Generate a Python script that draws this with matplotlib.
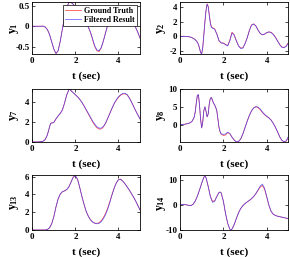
import numpy as np
import matplotlib
matplotlib.use("Agg")
import matplotlib.pyplot as plt

plt.rcParams['font.family'] = ['Liberation Serif', 'DejaVu Serif']
plt.rcParams['font.weight'] = 'bold'
plt.rcParams['axes.unicode_minus'] = False
plt.rcParams['mathtext.fontset'] = 'custom'
plt.rcParams['mathtext.rm'] = 'Liberation Serif:bold'
plt.rcParams['mathtext.it'] = 'Liberation Serif:bold'

# ---------------- data ----------------
t1 = [0.0, 0.1, 0.2, 0.3, 0.4, 0.5, 0.6, 0.7, 0.8, 0.9, 1.0, 1.1, 1.2, 1.3, 1.4, 1.5, 1.6, 1.7, 1.8, 1.9,
      2.0, 2.1, 2.2, 2.3, 2.4, 2.5, 2.6, 2.7, 2.8, 2.9, 3.0, 3.1, 3.2, 3.3, 3.4, 3.5, 3.6, 3.7, 3.8, 3.9,
      4.0, 4.1, 4.2, 4.3, 4.4, 4.5, 4.6, 4.7, 4.8, 4.9, 5.0]
y1_true = [0, 0, 0, 0, 0, 0.005, -0.02, -0.08, -0.2, -0.38, -0.56, -0.67, -0.6, -0.36, -0.06, 0.24, 0.47, 0.58, 0.585, 0.54,
           0.47, 0.4, 0.32, 0.23, 0.15, 0.07, -0.02, -0.15, -0.33, -0.5, -0.6, -0.62, -0.53, -0.36, -0.16, 0.03, 0.18, 0.3, 0.38, 0.42,
           0.44, 0.44, 0.42, 0.38, 0.32, 0.25, 0.17, 0.08, -0.03, -0.15, -0.29]
y1_filt = [0, 0, 0, 0, 0, 0.005, -0.02, -0.08, -0.2, -0.38, -0.56, -0.67, -0.6, -0.36, -0.06, 0.24, 0.47, 0.58, 0.585, 0.54,
           0.47, 0.4, 0.32, 0.23, 0.15, 0.07, -0.02, -0.14, -0.31, -0.48, -0.58, -0.6, -0.52, -0.36, -0.16, 0.03, 0.18, 0.3, 0.38, 0.42,
           0.44, 0.44, 0.42, 0.38, 0.32, 0.25, 0.17, 0.08, -0.03, -0.15, -0.29]

t2 = [0.0, 0.2, 0.4, 0.5, 0.6, 0.7, 0.8, 0.85, 0.9, 0.95, 1.0, 1.05, 1.1, 1.15, 1.2, 1.25, 1.3, 1.35, 1.4, 1.45,
      1.5, 1.55, 1.6, 1.7, 1.8, 1.9, 2.0, 2.1, 2.2, 2.3, 2.4, 2.5, 2.6, 2.7, 2.8, 2.9, 3.0, 3.1, 3.2, 3.3,
      3.4, 3.5, 3.6, 3.7, 3.8, 3.9, 4.0, 4.1, 4.2, 4.3, 4.4, 4.5, 4.6, 4.7, 4.8, 4.9, 5.0]
y2_true = [0, 0, -0.05, -0.12, -0.25, -0.45, -0.8, -1.1, -1.6, -2.2, -2.4, -1.5, 0.2, 2.0, 3.5, 4.4, 4.1, 3.0, 1.9, 1.3,
           1.15, 1.1, 1.0, 0.3, -0.6, -0.9, -0.9, -1.1, -1.25, -0.5, 0.55, 0.2, -0.6, -1.3, -1.6, -1.55, -1.0, -0.2, 0.8, 1.55,
           1.7, 1.4, 0.85, 0.4, 0.2, 0.3, 0.5, 0.6, 0.55, 0.3, -0.1, -0.6, -1.1, -1.45, -1.5, -1.3, -0.85]
y2_filt = [0, 0, -0.05, -0.12, -0.25, -0.45, -0.8, -1.1, -1.6, -2.2, -2.4, -1.5, 0.2, 2.0, 3.5, 4.35, 4.0, 2.8, 1.7, 1.2,
           1.1, 1.05, 0.95, 0.3, -0.6, -0.9, -0.95, -1.15, -1.3, -0.6, 0.45, 0.15, -0.6, -1.3, -1.65, -1.6, -1.0, -0.2, 0.8, 1.5,
           1.65, 1.4, 0.85, 0.4, 0.2, 0.3, 0.5, 0.6, 0.5, 0.25, -0.15, -0.65, -1.15, -1.5, -1.55, -1.35, -0.9]

t7 = [0.0, 0.1, 0.2, 0.3, 0.4, 0.5, 0.6, 0.7, 0.8, 0.85, 0.9, 0.95, 1.0, 1.1, 1.2, 1.3, 1.4, 1.5, 1.6, 1.7,
      1.75, 1.8, 1.9, 2.0, 2.1, 2.2, 2.3, 2.4, 2.5, 2.6, 2.7, 2.8, 2.9, 3.0, 3.1, 3.2, 3.3, 3.4, 3.5, 3.6,
      3.7, 3.8, 3.9, 4.0, 4.1, 4.2, 4.3, 4.4, 4.5, 4.6, 4.7, 4.8, 4.9, 5.0]
y7_true = [0, 0, 0, 0.01, 0.03, 0.08, 0.25, 0.7, 1.5, 1.85, 1.9, 1.9, 1.95, 2.3, 2.6, 2.85, 3.2, 3.9, 4.7, 5.2,
           5.22, 5.1, 4.9, 4.7, 4.5, 4.25, 3.95, 3.6, 3.2, 2.8, 2.4, 2.0, 1.68, 1.42, 1.28, 1.3, 1.5, 1.85, 2.35, 2.85,
           3.35, 3.8, 4.15, 4.45, 4.65, 4.77, 4.8, 4.7, 4.4, 4.0, 3.55, 3.1, 2.7, 2.3]
y7_filt = [0, 0, 0, 0.01, 0.03, 0.08, 0.25, 0.7, 1.5, 1.85, 1.9, 1.9, 1.95, 2.3, 2.6, 2.85, 3.2, 3.9, 4.7, 5.2,
           5.22, 5.1, 4.9, 4.7, 4.5, 4.25, 3.95, 3.6, 3.22, 2.85, 2.47, 2.08, 1.77, 1.52, 1.38, 1.38, 1.55, 1.88, 2.35, 2.85,
           3.35, 3.82, 4.2, 4.5, 4.7, 4.82, 4.85, 4.72, 4.4, 4.0, 3.55, 3.1, 2.7, 2.3]

t8 = [0.0, 0.2, 0.35, 0.45, 0.55, 0.65, 0.7, 0.75, 0.8, 0.85, 0.9, 0.95, 1.0, 1.05, 1.1, 1.15, 1.2, 1.25, 1.3, 1.35,
      1.4, 1.45, 1.5, 1.55, 1.6, 1.65, 1.7, 1.75, 1.8, 1.85, 1.9, 2.0, 2.1, 2.2, 2.3, 2.4, 2.5, 2.6, 2.7, 2.8,
      2.9, 3.0, 3.1, 3.2, 3.3, 3.4, 3.5, 3.6, 3.7, 3.8, 3.9, 4.0, 4.1, 4.2, 4.3, 4.4, 4.5, 4.6, 4.7, 4.8,
      4.9, 5.0]
y8_true = [0, 0.1, 0.3, 0.5, 0.9, 2.0, 3.5, 6.0, 8.2, 8.4, 5.5, 1.5, -0.9, 0.8, 4.0, 5.0, 3.8, 2.2, 3.0, 5.8,
           7.4, 7.6, 6.8, 6.0, 5.5, 4.8, 3.8, 1.5, -0.8, -2.0, -2.7, -3.0, -2.9, -2.2, -2.5, -3.5, -4.3, -4.85, -4.7, -4.0,
           -2.6, -0.8, 1.0, 2.6, 3.9, 4.7, 5.0, 4.8, 4.2, 3.4, 2.8, 2.3, 1.9, 1.3, 0.4, -0.7, -2.0, -3.4, -4.4, -4.8,
           -4.6, -3.5]
y8_filt = [0, 0.1, 0.3, 0.5, 0.9, 2.0, 3.5, 6.0, 8.2, 8.4, 5.5, 1.5, -0.9, 0.8, 4.0, 5.0, 3.8, 2.2, 3.0, 5.8,
           7.4, 7.6, 6.8, 6.0, 5.5, 4.8, 3.8, 1.5, -0.8, -2.0, -2.6, -2.7, -2.6, -2.1, -2.5, -3.5, -4.3, -4.85, -4.7, -4.0,
           -2.6, -0.8, 1.0, 2.6, 3.9, 4.7, 5.1, 4.9, 4.4, 3.6, 2.9, 2.4, 1.9, 1.3, 0.4, -0.7, -2.0, -3.4, -4.4, -4.8,
           -4.5, -3.3]

t13 = [0.0, 0.1, 0.2, 0.3, 0.4, 0.5, 0.6, 0.7, 0.8, 0.9, 1.0, 1.1, 1.2, 1.3, 1.4, 1.5, 1.6, 1.7, 1.8, 1.9,
       2.0, 2.1, 2.2, 2.3, 2.4, 2.5, 2.6, 2.7, 2.8, 2.9, 3.0, 3.1, 3.2, 3.3, 3.4, 3.5, 3.6, 3.7, 3.8, 3.9,
       4.0, 4.1, 4.2, 4.3, 4.4, 4.5, 4.6, 4.7, 4.8, 4.9, 5.0]
y13_true = [0, 0, 0, 0, 0, 0, 0, 0.05, 0.25, 0.7, 1.5, 2.6, 3.5, 4.05, 4.3, 4.4, 4.55, 4.85, 5.4, 5.95,
            6.1, 5.7, 4.8, 3.8, 2.9, 2.1, 1.55, 1.15, 0.9, 0.78, 0.75, 0.82, 1.05, 1.4, 1.85, 2.45, 3.2, 4.0, 4.72, 5.3,
            5.65, 5.72, 5.5, 5.2, 4.85, 4.5, 4.1, 3.7, 3.25, 2.75, 2.25]
y13_filt = [0, 0, 0, 0, 0, 0, 0, 0.05, 0.25, 0.7, 1.5, 2.6, 3.5, 4.05, 4.3, 4.4, 4.55, 4.85, 5.4, 5.95,
            6.1, 5.7, 4.8, 3.8, 2.9, 2.1, 1.55, 1.15, 0.9, 0.75, 0.7, 0.74, 0.93, 1.27, 1.72, 2.33, 3.1, 3.92, 4.68, 5.28,
            5.65, 5.7, 5.48, 5.2, 4.85, 4.5, 4.1, 3.7, 3.25, 2.75, 2.25]

t14 = [0.0, 0.1, 0.2, 0.3, 0.4, 0.5, 0.6, 0.7, 0.8, 0.9, 1.0, 1.1, 1.15, 1.2, 1.3, 1.4, 1.5, 1.6, 1.7, 1.8,
       1.85, 1.9, 2.0, 2.1, 2.2, 2.3, 2.35, 2.4, 2.5, 2.6, 2.7, 2.8, 2.9, 3.0, 3.1, 3.2, 3.3, 3.4, 3.5, 3.6,
       3.7, 3.8, 3.9, 4.0, 4.1, 4.2, 4.3, 4.4, 4.5, 4.6, 4.7, 4.8, 4.9, 5.0]
y14_true = [0.2, 0.2, 0.1, 0, -0.2, -0.3, 0.2, 1.5, 3.5, 6.0, 8.8, 11.2, 11.7, 11.0, 7.5, 3.5, 1.4, 1.7, 3.5, 5.0,
            5.2, 4.8, 1.5, -3.5, -7.5, -9.9, -10.1, -9.8, -8.0, -5.5, -3.2, -1.5, -0.3, 0.5, 1.2, 1.8, 2.5, 3.4, 4.5, 5.9,
            7.2, 7.8, 6.4, 3.2, -0.2, -2.6, -3.8, -4.3, -4.6, -4.8, -5.0, -5.2, -5.4, -5.6]
y14_filt = [0.2, 0.2, 0.1, 0, -0.2, -0.3, 0.2, 1.5, 3.5, 6.0, 8.8, 11.2, 11.7, 11.0, 7.5, 3.3, 1.0, 1.4, 3.4, 5.0,
            5.2, 4.8, 1.5, -3.5, -7.5, -9.9, -10.1, -9.8, -8.0, -5.5, -3.2, -1.5, -0.3, 0.5, 1.2, 1.8, 2.5, 3.4, 4.6, 6.1,
            7.6, 8.4, 6.8, 3.4, -0.1, -2.6, -3.8, -4.3, -4.6, -4.8, -5.0, -5.2, -5.4, -5.6]

panels = [
    (t1, y1_true, y1_filt, '$y_1$', (-0.68, 0.595), [-0.5, 0, 0.5]),
    (t2, y2_true, y2_filt, '$y_2$', (-2.4, 4.66), [-2, 0, 2, 4]),
    (t7, y7_true, y7_filt, '$y_7$', (0, 5.27), [0, 2, 4]),
    (t8, y8_true, y8_filt, '$y_8$', (-4.85, 10), [0, 5, 10]),
    (t13, y13_true, y13_filt, '$y_{13}$', (0, 6.18), [0, 2, 4, 6]),
    (t14, y14_true, y14_filt, '$y_{14}$', (-10.2, 12.1), [-10, 0, 10]),
]
xticks = [0, 2, 4]
legend_labels = ['Ground Truth', 'Filtered Result']

# ---------------- layout ----------------
W, H = 290, 257
fig = plt.figure(figsize=(W / 100, H / 100), dpi=100)
cols = [(32.3, 140.0), (180.0, 288.4)]
rows = [(2.0, 54.0), (89.0, 142.0), (175.0, 230.0)]

for i, (t, ytrue, yfilt, lab, ylim, yt) in enumerate(panels):
    r, c = divmod(i, 2)
    x0, x1 = cols[c]
    yt0, yb0 = rows[r]
    w_px, h_px = x1 - x0, yb0 - yt0
    ax = fig.add_axes([x0 / W, 1 - yb0 / H, w_px / W, h_px / H])
    ax.plot(t, ytrue, color='#ff4040', lw=0.55, label=legend_labels[0])
    ax.plot(t, yfilt, color='#3a3aff', lw=0.55, alpha=0.8, label=legend_labels[1])
    ax.set_xlim(0, 5)
    ax.set_ylim(*ylim)
    ax.set_xticks(xticks)
    ax.set_yticks(yt)
    ax.set_yticklabels([('%g' % v) for v in yt])
    ax.tick_params(direction='in', length=2, width=0.5, labelsize=6.5, pad=2,
                   top=True, right=True)
    for s in ax.spines.values():
        s.set_linewidth(0.6)
    ax.set_xlabel('t (sec)', fontsize=8, fontweight='bold')
    ax.xaxis.set_label_coords(0.5, -22.0 / h_px)
    ax.xaxis.label.set_va('center')
    ax.set_ylabel(lab, fontsize=8.5)
    ax.yaxis.set_label_coords(-18.0 / w_px, 0.5)
    ax.yaxis.label.set_va('center')
    if i == 0:
        leg = ax.legend(loc='upper right', fontsize=5.8, frameon=True, fancybox=False,
                        edgecolor='black', borderpad=0.25, labelspacing=0.1,
                        handlelength=2.0, handletextpad=0.4, borderaxespad=0.4)
        leg.get_frame().set_linewidth(0.5)
        leg.get_frame().set_alpha(1)

fig.savefig('out.png', dpi=100)
